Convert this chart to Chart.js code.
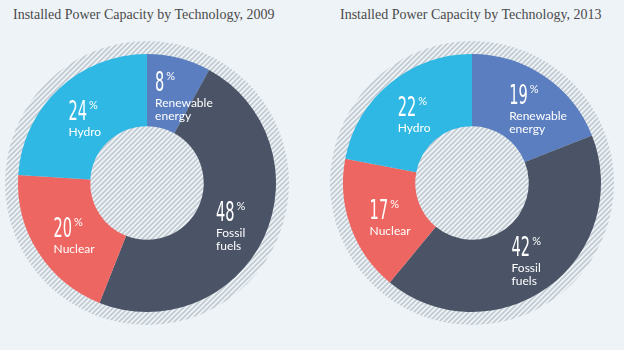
<!DOCTYPE html>
<html>
<head>
<meta charset="utf-8">
<script src="https://cdn.jsdelivr.net/npm/chart.js@4.4.1/dist/chart.umd.min.js"></script>
<style>
  body { margin: 0; background: #eef3f7; width: 624px; height: 350px; overflow: hidden; position: relative; }
  .title { position: absolute; top: 7px; font-family: "Liberation Serif", serif; font-size: 14px; color: #4a4a4a; white-space: nowrap; }
  .box { position: absolute; top: 41px; width: 284px; height: 284px; }
</style>
</head>
<body>
<div class="title" style="left:13px">Installed Power Capacity by Technology, 2009</div>
<div class="title" style="left:340px">Installed Power Capacity by Technology, 2013</div>
<div class="box" style="left:5px"><canvas id="chart2009"></canvas></div>
<div class="box" style="left:330px"><canvas id="chart2013"></canvas></div>
<script>
// data
const categories = ['Renewable energy', 'Fossil fuels', 'Nuclear', 'Hydro'];
const labelLines = [['Renewable', 'energy'], ['Fossil', 'fuels'], ['Nuclear'], ['Hydro']];
const values2009 = [8, 48, 20, 24];
const values2013 = [19, 42, 17, 22];
const colors = ['#5b7ec0', '#4a5466', '#ee6661', '#2fb8e4'];

// striped fill used behind the rings
function makeHatch() {
  const s = 5;
  const c = document.createElement('canvas');
  c.width = s; c.height = s;
  const g = c.getContext('2d');
  g.fillStyle = '#eef3f7';
  g.fillRect(0, 0, s, s);
  g.strokeStyle = '#c2cad1';
  g.lineWidth = 1.6;
  g.beginPath();
  g.moveTo(-1, s + 1); g.lineTo(s + 1, -1);
  g.moveTo(-1, 1); g.lineTo(1, -1);
  g.moveTo(s - 1, s + 1); g.lineTo(s + 1, s - 1);
  g.stroke();
  return g.createPattern(c, 'repeat');
}

const hatchPlugin = {
  id: 'hatch',
  beforeDatasetsDraw(chart) {
    const arc = chart.getDatasetMeta(0).data[0];
    if (!arc) return;
    const ctx = chart.ctx;
    ctx.save();
    ctx.fillStyle = makeHatch();
    ctx.beginPath();
    ctx.arc(arc.x, arc.y, arc.outerRadius + 13, 0, Math.PI * 2);
    ctx.fill();
    ctx.restore();
  }
};

const labelPlugin = {
  id: 'sliceLabels',
  afterDatasetsDraw(chart) {
    const ctx = chart.ctx;
    const vals = chart.data.datasets[0].data;
    chart.getDatasetMeta(0).data.forEach((arc, i) => {
      const p = arc.getProps(['x', 'y', 'startAngle', 'endAngle', 'innerRadius', 'outerRadius'], true);
      const mid = (p.startAngle + p.endAngle) / 2;
      const r = (p.innerRadius + p.outerRadius) / 2;
      const cx = p.x + Math.cos(mid) * r;
      const cy = p.y + Math.sin(mid) * r;
      const lines = labelLines[i];
      const h = 35 + (lines.length - 1) * 13;
      const left = cx - 15;
      const top = cy + 3 - h / 2;
      ctx.save();
      ctx.fillStyle = '#ffffff';
      ctx.textBaseline = 'alphabetic';
      ctx.textAlign = 'left';
      // number, narrowed
      ctx.save();
      ctx.translate(left, top + 19);
      ctx.scale(0.6, 1);
      ctx.font = '27px "DejaVu Sans Condensed", "DejaVu Sans", sans-serif';
      const numText = String(vals[i]);
      ctx.fillText(numText, 0, 0);
      const nw = ctx.measureText(numText).width * 0.6;
      ctx.restore();
      ctx.font = '11px Lato, sans-serif';
      ctx.fillText('%', left + nw + 2, top + 8);
      ctx.font = '12px Lato, sans-serif';
      lines.forEach((t, k) => ctx.fillText(t, left, top + 35 + k * 13));
      ctx.restore();
    });
  }
};

function makeChart(id, values) {
  return new Chart(document.getElementById(id), {
    type: 'doughnut',
    data: {
      labels: categories,
      datasets: [{
        data: values,
        backgroundColor: colors,
        borderWidth: 0
      }]
    },
    options: {
      responsive: true,
      maintainAspectRatio: false,
      animation: false,
      cutout: '44%',
      layout: { padding: 13 },
      plugins: {
        legend: { display: false },
        tooltip: { enabled: false }
      }
    },
    plugins: [hatchPlugin, labelPlugin]
  });
}

makeChart('chart2009', values2009);
makeChart('chart2013', values2013);
</script>
</body>
</html>
